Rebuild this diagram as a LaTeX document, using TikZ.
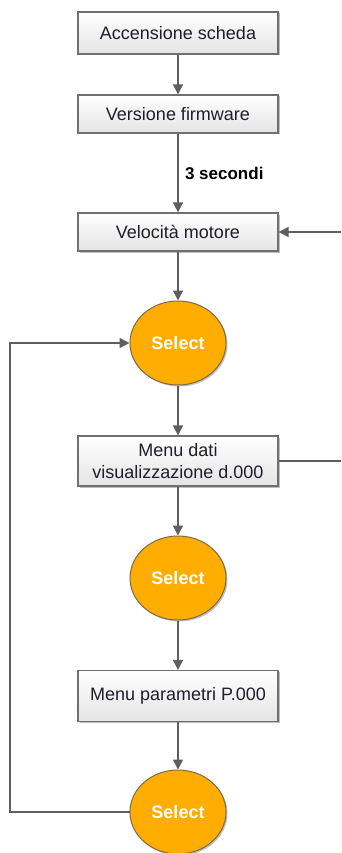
\documentclass[tikz,border=0pt]{standalone}
\usepackage{fontspec}
\setmainfont{Liberation Sans}
\usetikzlibrary{shapes.geometric,arrows.meta,shadows}
\definecolor{linegray}{HTML}{5E5E5E}
\definecolor{boxedge}{HTML}{707070}
\definecolor{boxbottom}{HTML}{E4E4E4}
\definecolor{selfill}{HTML}{FFAD00}
\definecolor{seledge}{HTML}{7E6A45}
\definecolor{textdark}{HTML}{1E1E2C}
\tikzset{
  stepbox/.style={draw=boxedge, line width=1.2pt, top color=white, bottom color=boxbottom,
    minimum width=200pt, inner sep=2pt, align=center, text=textdark,
    font=\fontsize{18pt}{22pt}\selectfont,
    drop shadow={shadow xshift=1.5pt, shadow yshift=-1.5pt, opacity=0.25, fill=black}},
  selnode/.style={ellipse, draw=seledge, line width=1pt, fill=selfill,
    minimum width=96pt, minimum height=84pt, inner sep=0pt, text=white,
    font=\fontsize{18pt}{22pt}\selectfont\bfseries,
    drop shadow={shadow xshift=1.5pt, shadow yshift=-1.5pt, opacity=0.25, fill=black}},
  flow/.style={draw=linegray, line width=1.5pt, -{Triangle[length=10pt,width=10pt]}},
  plainflow/.style={draw=linegray, line width=1.3pt},
}
\begin{document}
\begin{tikzpicture}[x=1pt, y=-1pt]
  \useasboundingbox (0,0) rectangle (341,853);
  \clip (0,0) rectangle (341,853);

  % main column of steps
  \node[stepbox, minimum height=42pt] (acc) at (178,33) {Accensione scheda};
  \node[stepbox, minimum height=38pt] (fw)  at (178,114) {Versione firmware};
  \node[stepbox, minimum height=38pt] (vel) at (178,232) {Velocità motore};
  \node[selnode] (sel1) at (178,343) {Select};
  \node[stepbox, minimum height=50pt] (dati) at (178,461) {Menu dati\\visualizzazione d.000};
  \node[selnode] (sel2) at (178,578) {Select};
  \node[stepbox, minimum height=51pt] (par) at (178,696) {Menu parametri P.000};
  \node[selnode] (sel3) at (178,812) {Select};

  % free ends on the right margin
  \coordinate (inR)  at (341,232);
  \coordinate (outR) at (341,461);
  \coordinate (loopL) at (10,812);

  % vertical flow
  \draw[flow] (acc) -- (fw);
  \draw[flow] (fw) -- node[right=3pt, font=\fontsize{17pt}{20pt}\selectfont\bfseries, text=black] (lbl) {3 secondi} (vel);
  \draw[flow] (vel) -- (sel1);
  \draw[flow] (sel1) -- (dati);
  \draw[flow] (dati) -- (sel2);
  \draw[flow] (sel2) -- (par);
  \draw[flow] (par) -- (sel3);

  % side connectors
  \draw[flow] (inR) -- (vel.east);
  \draw[plainflow] (dati.east) -- (outR);
  \draw[flow, line width=1.3pt] (sel3.west) -- (loopL) |- (sel1.west);
\end{tikzpicture}
\end{document}
